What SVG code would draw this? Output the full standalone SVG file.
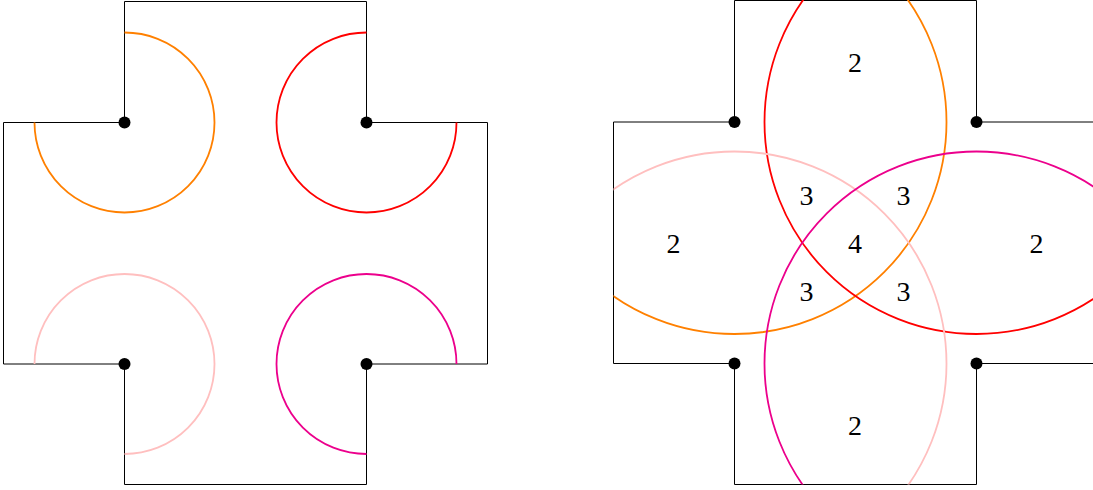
<svg xmlns="http://www.w3.org/2000/svg" width="1093" height="490" viewBox="0 0 1093 490">
  <style>
    .outline { fill: none; stroke: #000; stroke-width: 1; }
    .dot { fill: #000; }
    .arc { fill: none; stroke-width: 1.8; }
    .orange { stroke: #FF8000; }
    .red { stroke: #FF0000; }
    .pink { stroke: #FFBFBF; }
    .magenta { stroke: #EC008C; }
    .lbl { font-family: "Liberation Serif", "DejaVu Serif", serif; font-size: 28px; fill: #000; text-anchor: middle; }
  </style>
  <defs>
    <clipPath id="crossClip">
      <polygon points="734.5,0 976.5,0 976.5,122 1093,122 1093,363.5 976.5,363.5 976.5,484.5 734.5,484.5 734.5,363.5 613.5,363.5 613.5,122 734.5,122"/>
    </clipPath>
  </defs>
  <rect width="1093" height="490" fill="#fff"/>

  <g id="left-figure">
    <path id="left-outline" class="outline" d="M124.5,1.5 H366.5 V122.5 H487.5 V364 H366.5 V484.5 H124.5 V364 H3.5 V122.5 H124.5 Z"/>
    <g id="left-arcs">
      <path class="arc orange" d="M124.5,32.5 A90,90 0 1 1 34.5,122.5"/>
      <path class="arc red" d="M366.5,32.5 A90,90 0 1 0 456.5,122.5"/>
      <path class="arc pink" d="M34.5,364 A90,90 0 1 1 124.5,454"/>
      <path class="arc magenta" d="M456.5,364 A90,90 0 1 0 366.5,454"/>
    </g>
    <g id="left-dots">
      <circle class="dot" cx="124.5" cy="122.5" r="6"/>
      <circle class="dot" cx="366.5" cy="122.5" r="6"/>
      <circle class="dot" cx="124.5" cy="364" r="6"/>
      <circle class="dot" cx="366.5" cy="364" r="6"/>
    </g>
  </g>

  <g id="right-figure">
    <g id="right-outline">
      <path class="outline" d="M734.5,122 V0.5 H976.5 V122 H1093"/>
      <path class="outline" d="M1093,363.5 H976.5 V484.5 H734.5 V363.5 H613.5 V122 H734.5"/>
    </g>
    <g id="right-circles" clip-path="url(#crossClip)">
      <circle class="arc orange" cx="734.5" cy="122" r="212"/>
      <circle class="arc red" cx="976.5" cy="122" r="212"/>
      <circle class="arc pink" cx="734.5" cy="363.5" r="212"/>
      <circle class="arc magenta" cx="976.5" cy="363.5" r="212"/>
    </g>
    <g id="right-dots">
      <circle class="dot" cx="734.5" cy="122" r="6"/>
      <circle class="dot" cx="976.5" cy="122" r="6"/>
      <circle class="dot" cx="734.5" cy="363.5" r="6"/>
      <circle class="dot" cx="976.5" cy="363.5" r="6"/>
    </g>
    <g id="right-labels">
      <text class="lbl" x="855" y="71.5">2</text>
      <text class="lbl" x="673.5" y="252.5">2</text>
      <text class="lbl" x="1036.5" y="252.5">2</text>
      <text class="lbl" x="855" y="434.5">2</text>
      <text class="lbl" x="806.5" y="204.5">3</text>
      <text class="lbl" x="903.5" y="204.5">3</text>
      <text class="lbl" x="855" y="252.5">4</text>
      <text class="lbl" x="806.5" y="301">3</text>
      <text class="lbl" x="903.5" y="301">3</text>
    </g>
  </g>
</svg>
